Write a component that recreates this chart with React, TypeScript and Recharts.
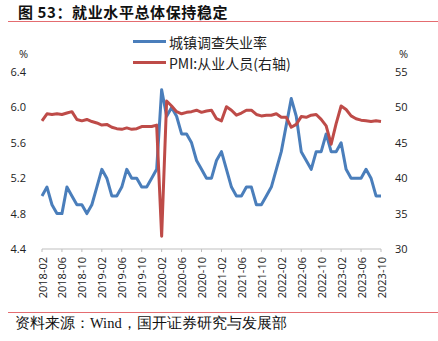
import React from 'react';
import {Legend, Line, LineChart, XAxis, YAxis} from 'recharts';

// 月份：2018-02 ~ 2023-10
const MONTHS: string[] = [];
for (let y = 2018; y <= 2023; y++) {
  for (let m = 1; m <= 12; m++) {
    if ((y === 2018 && m < 2) || (y === 2023 && m > 10)) continue;
    MONTHS.push(`${y}-${String(m).padStart(2, '0')}`);
  }
}

// 城镇调查失业率 (%)
const UNEMP_2018 = [5.0, 5.1, 4.9, 4.8, 4.8, 5.1, 5.0, 4.9, 4.9, 4.8, 4.9];
const UNEMP_2019 = [5.1, 5.3, 5.2, 5.0, 5.0, 5.1, 5.3, 5.2, 5.2, 5.1, 5.1, 5.2];
const UNEMP_2020 = [5.3, 6.2, 5.9, 6.0, 5.9, 5.7, 5.7, 5.6, 5.4, 5.3, 5.2, 5.2];
const UNEMP_2021 = [5.4, 5.5, 5.3, 5.1, 5.0, 5.0, 5.1, 5.1, 4.9, 4.9, 5.0, 5.1];
const UNEMP_2022 = [5.3, 5.5, 5.8, 6.1, 5.9, 5.5, 5.4, 5.3, 5.5, 5.5, 5.7, 5.5];
const UNEMP_2023 = [5.5, 5.6, 5.3, 5.2, 5.2, 5.2, 5.3, 5.2, 5.0, 5.0];

// PMI:从业人员 (右轴)
const PMI_2018 = [48.1, 49.1, 49.0, 49.1, 49.0, 49.2, 49.4, 48.3, 48.1, 48.3, 48.0];
const PMI_2019 = [47.8, 47.5, 47.6, 47.2, 47.0, 46.9, 47.1, 46.9, 47.0, 47.3, 47.3, 47.3];
const PMI_2020 = [47.5, 31.8, 50.9, 50.2, 49.4, 49.1, 49.3, 49.4, 49.6, 49.3, 49.5, 49.6];
const PMI_2021 = [48.4, 48.1, 50.1, 49.6, 48.9, 49.2, 49.6, 49.6, 49.0, 48.8, 48.9, 48.9];
const PMI_2022 = [49.1, 48.6, 48.6, 47.2, 47.6, 48.7, 48.6, 48.9, 49.0, 48.3, 47.4, 44.8];
const PMI_2023 = [47.7, 50.2, 49.7, 48.8, 48.4, 48.2, 48.1, 48.0, 48.1, 48.0];

const LEFT_TICKS = [4.4, 4.8, 5.2, 5.6, 6.0, 6.4];
const RIGHT_TICKS = [30, 35, 40, 45, 50, 55];

const UNEMP = [...UNEMP_2018, ...UNEMP_2019, ...UNEMP_2020, ...UNEMP_2021, ...UNEMP_2022, ...UNEMP_2023];
const PMI = [...PMI_2018, ...PMI_2019, ...PMI_2020, ...PMI_2021, ...PMI_2022, ...PMI_2023];

const data = MONTHS.map((month, i) => ({month, unemp: UNEMP[i], pmi: PMI[i]}));

const BLUE = '#4a7ebb';
const RED = '#be4b48';
const RULE = '#e46c70';
const TEXT = '#222';
const TICK_FONT = '"Open Sans", "Noto Sans", sans-serif';
const CJK_FONT = '"Noto Sans CJK SC", "Noto Sans", sans-serif';

const MonthTick = (props: any) => {
  const {x, y, payload} = props;
  return (
    <text
      x={x}
      y={y}
      transform={`rotate(-90 ${x} ${y})`}
      textAnchor="end"
      dominantBaseline="central"
      fontSize={11}
      fontFamily={TICK_FONT}
      fill={TEXT}
    >
      {payload.value}
    </text>
  );
};

const LegendBox = () => {
  const items = [
    {label: '城镇调查失业率', color: BLUE},
    {label: 'PMI:从业人员(右轴)', color: RED},
  ];
  return (
    <div style={{fontFamily: CJK_FONT, fontSize: 14, color: TEXT}}>
      {items.map((it) => (
        <div key={it.label} style={{display: 'flex', alignItems: 'center', height: 21}}>
          <span style={{display: 'inline-block', width: 33, height: 3, background: it.color, marginRight: 3}} />
          <span>{it.label}</span>
        </div>
      ))}
    </div>
  );
};

export default function App() {
  return (
    <div style={{position: 'relative', width: 438, height: 341, background: '#fff', overflow: 'hidden'}}>
      <style>{'body{margin:0}'}</style>
      <div
        style={{
          position: 'absolute',
          top: 1,
          left: 18,
          fontFamily: CJK_FONT,
          fontWeight: 700,
          fontSize: 15,
          letterSpacing: 0.6,
          color: '#111',
          whiteSpace: 'nowrap',
        }}
      >
        图 53：就业水平总体保持稳定
      </div>
      <div style={{position: 'absolute', top: 21, left: 8, width: 430, height: 1, background: RULE}} />

      <div style={{position: 'absolute', top: 46, left: 19, fontFamily: TICK_FONT, fontSize: 11, color: TEXT}}>%</div>
      <div style={{position: 'absolute', top: 46, left: 399, fontFamily: TICK_FONT, fontSize: 11, color: TEXT}}>%</div>

      <LineChart width={438} height={341} data={data} margin={{top: 72, right: 0, bottom: 0, left: 0}}>
        <XAxis
          dataKey="month"
          scale="point"
          padding={{left: 0, right: 0}}
          interval={3}
          height={92}
          tickSize={3}
          tickMargin={5}
          axisLine={{stroke: '#bfbfbf'}}
          tickLine={{stroke: '#bfbfbf'}}
          tick={<MonthTick />}
        />
        <YAxis
          yAxisId="left"
          domain={[4.4, 6.4]}
          ticks={LEFT_TICKS}
          tickFormatter={(v: number) => v.toFixed(1)}
          width={42}
          axisLine={false}
          tickLine={false}
          tickSize={6}
          tickMargin={10}
          tick={{fontSize: 11, fontFamily: TICK_FONT, fill: TEXT}}
        />
        <YAxis
          yAxisId="right"
          orientation="right"
          domain={[30, 55]}
          ticks={RIGHT_TICKS}
          width={57}
          axisLine={false}
          tickLine={false}
          tickSize={6}
          tickMargin={8}
          tick={{fontSize: 11, fontFamily: TICK_FONT, fill: TEXT, textAnchor: 'start'}}
        />
        <Legend
          layout="vertical"
          align="center"
          verticalAlign="middle"
          content={<LegendBox />}
          wrapperStyle={{top: 31, left: 133, width: 200}}
        />
        <Line
          yAxisId="left"
          dataKey="unemp"
          stroke={BLUE}
          strokeWidth={3}
          dot={false}
          strokeLinejoin="round"
          isAnimationActive={false}
        />
        <Line
          yAxisId="right"
          dataKey="pmi"
          stroke={RED}
          strokeWidth={3}
          dot={false}
          strokeLinejoin="round"
          isAnimationActive={false}
        />
      </LineChart>

      <div style={{position: 'absolute', top: 312, left: 8, width: 430, height: 1, background: RULE}} />
      <div
        style={{
          position: 'absolute',
          top: 314,
          left: 15,
          fontFamily: '"Liberation Serif", "DejaVu Serif", serif',
          fontSize: 14.5,
          color: '#111',
          whiteSpace: 'nowrap',
        }}
      >
        资料来源：Wind，国开证券研究与发展部
      </div>
    </div>
  );
}
